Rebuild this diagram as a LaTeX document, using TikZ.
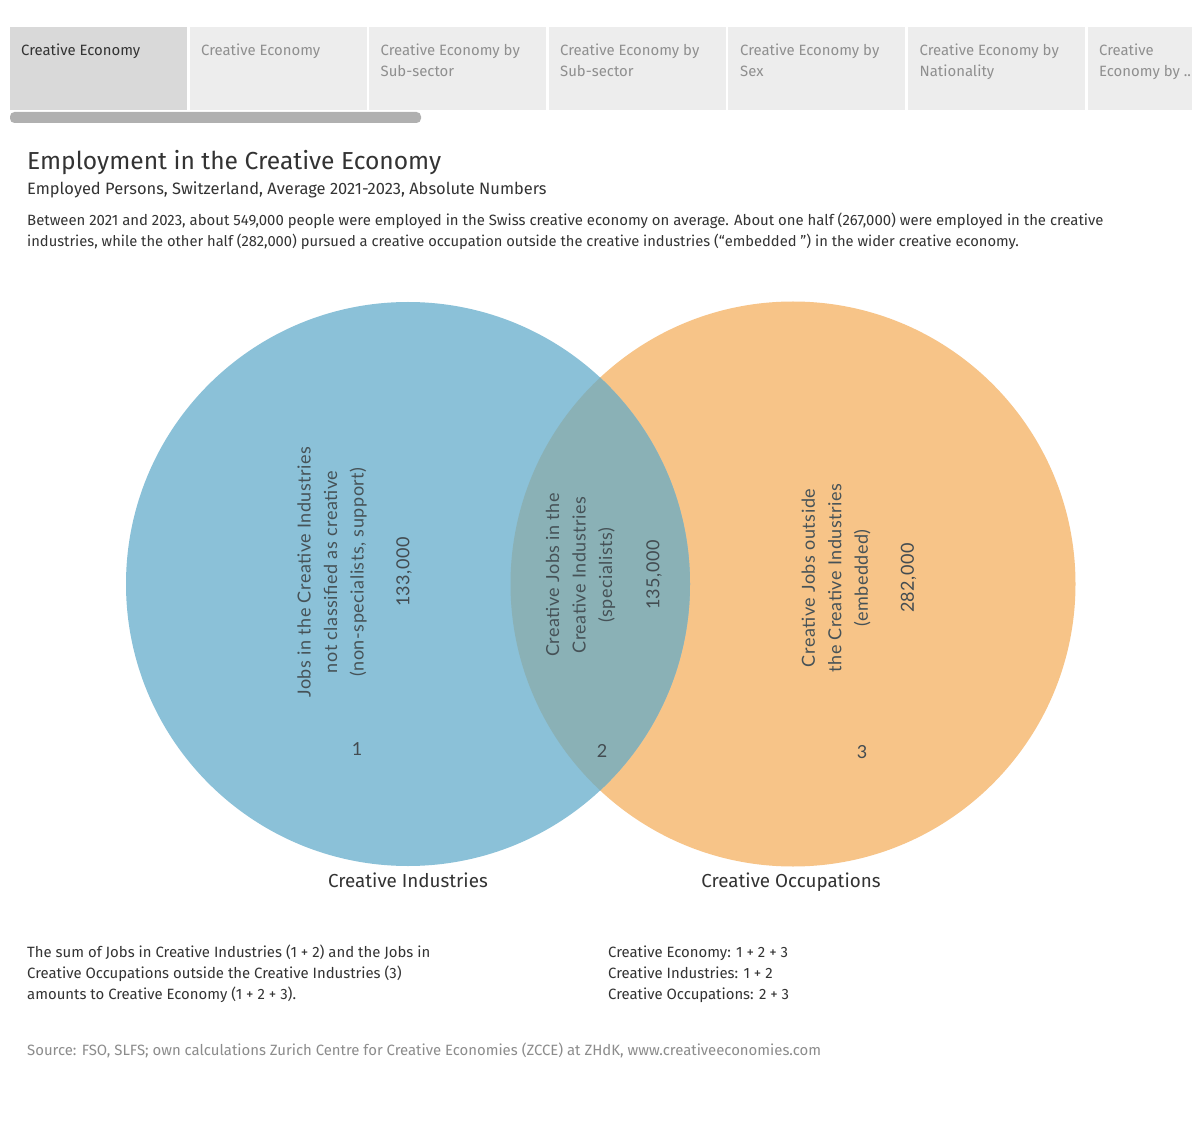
\documentclass[tikz,border=0pt]{standalone}
\usepackage{fontspec}
\setmainfont{Fira Sans}
\newfontfamily\rotfont[LetterSpace=3]{Lato}
\definecolor{tabon}{HTML}{D9D9D9}
\definecolor{taboff}{HTML}{EDEDED}
\definecolor{tabtxt}{HTML}{8F8F8F}
\definecolor{dark}{HTML}{333333}
\definecolor{scroll}{HTML}{B0B0B0}
\definecolor{blue1}{HTML}{8BC1D8}
\definecolor{orange1}{HTML}{F7C488}
\definecolor{lens}{HTML}{8AB1B6}
\definecolor{src}{HTML}{8C8C8C}
\tikzset{
  x=1pt,y=-1pt,
  tabbox/.style={fill=taboff,draw=none,minimum width=177pt,minimum height=83pt,anchor=north west,inner sep=0pt,outer sep=0pt},
  tabtext/.style={anchor=base west,inner sep=0pt,font=\fontsize{14.9}{21}\selectfont,text=tabtxt,align=left},
  bodytext/.style={anchor=base west,inner sep=0pt,text=dark,font=\fontsize{14.9}{21.3}\selectfont,align=left},
  rottext/.style={rotate=90,inner sep=0pt,text=dark!78!blue1,font=\fontsize{18}{26.5}\selectfont\rotfont,align=center},
  numtext/.style={inner sep=0pt,text=dark!82!blue1,font=\fontsize{18}{20}\selectfont\rotfont},
  setlabel/.style={anchor=base,inner sep=0pt,text=dark,font=\fontsize{18.8}{22}\selectfont},
}
\begin{document}
\begin{tikzpicture}
\useasboundingbox (0,0) rectangle (1200,1139);
\fill[white] (0,0) rectangle (1200,1139);
% tabs
\node[tabbox,fill=tabon] (t1) at (10,27) {};
\node[tabbox] (t2) at (189.5,27) {};
\node[tabbox] (t3) at (369,27) {};
\node[tabbox] (t4) at (549,27) {};
\node[tabbox] (t5) at (728,27) {};
\node[tabbox] (t6) at (908,27) {};
\node[tabbox,minimum width=104pt] (t7) at (1088,27) {};
\node[tabtext,text=dark] (l1) at (21,55.5) {Creative Economy};
\node[tabtext] (l2) at (201,55.5) {Creative Economy};
\node[tabtext] (l3) at (380.5,76.5) {Creative Economy by\\Sub-sector};
\node[tabtext] (l4) at (560,76.5) {Creative Economy by\\Sub-sector};
\node[tabtext] (l5) at (740,76.5) {Creative Economy by\\Sex};
\node[tabtext] (l6) at (919.5,76.5) {Creative Economy by\\Nationality};
\node[tabtext] (l7) at (1099,76.5) {Creative\\Economy by ..};
\fill[scroll,rounded corners=4.5pt] (10,112) rectangle (421,123);
% titles
\node[bodytext,font=\fontsize{24.6}{28}\selectfont] (title) at (27,170) {Employment in the Creative Economy};
\node[bodytext,font=\fontsize{16.45}{20}\selectfont] (sub) at (27,194.5) {Employed Persons, Switzerland, Average 2021-2023, Absolute Numbers};
\node[bodytext] (intro) at (27,246.5) {Between 2021 and 2023, about 549,000 people were employed in the Swiss creative economy on average. About one half (267,000) were employed in the creative\\{\fontsize{14.72}{21.3}\selectfont industries, while the other half (282,000) pursued a creative occupation outside the creative industries (“embedded ”) in the wider creative economy.}};
% venn
\fill[orange1] (793,584) circle (282.5);
\fill[blue1] (408,584) circle (282);
\begin{scope}
\clip (408,584) circle (282);
\fill[lens] (793,584) circle (282.5);
\end{scope}
\node[rottext] (a) at (332,572) {Jobs in the Creative Industries\\not classified as creative\\(non-specialists, support)};
\node[numtext,rotate=90] (an) at (404,572) {133,000};
\node[rottext] (b) at (580.5,575) {Creative Jobs in the\\Creative Industries\\(specialists)};
\node[numtext,rotate=90] (bn) at (654,575) {135,000};
\node[rottext] (c) at (836,578) {Creative Jobs outside\\the Creative Industries\\(embedded)};
\node[numtext,rotate=90] (cn) at (908.5,578) {282,000};
\node[numtext] (n1) at (357,749) {1};
\node[numtext] (n2) at (602,751) {2};
\node[numtext] (n3) at (862,752) {3};
\node[setlabel] (ci) at (408,887.5) {Creative Industries};
\node[setlabel] (co) at (791,887.5) {Creative Occupations};
% notes
\node[bodytext] (n4) at (27,999.6) {The sum of Jobs in Creative Industries (1 + 2) and the Jobs in\\Creative Occupations outside the Creative Industries (3)\\amounts to Creative Economy (1 + 2 + 3).};
\node[bodytext] (n5) at (608,999.6) {Creative Economy: 1 + 2 + 3\\Creative Industries: 1 + 2\\Creative Occupations: 2 + 3};
\node[bodytext,text=src] (s) at (27,1055) {Source: FSO, SLFS; own calculations Zurich Centre for Creative Economies (ZCCE) at ZHdK, www.creativeeconomies.com};
\end{tikzpicture}
\end{document}
